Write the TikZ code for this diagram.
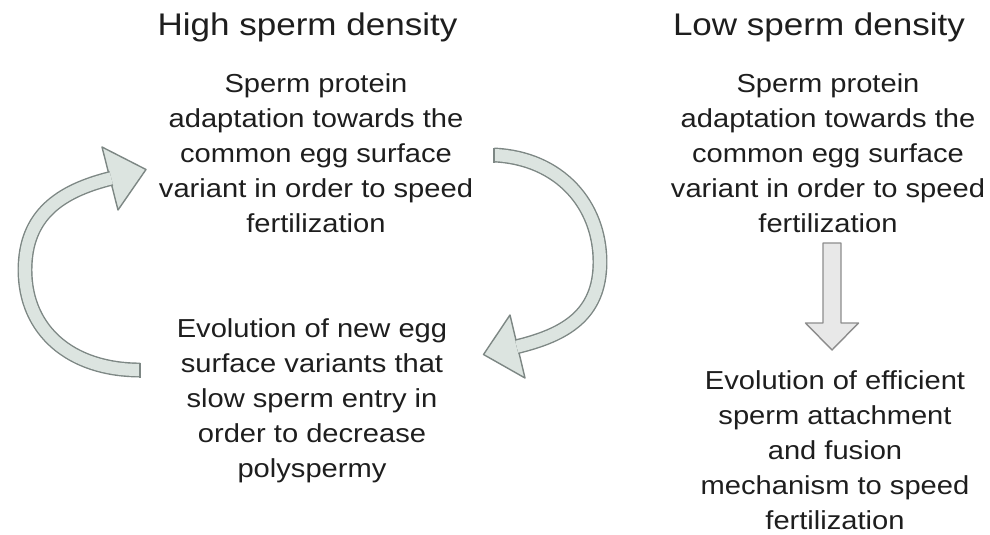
\documentclass[tikz,border=0pt]{standalone}
\usepackage{fontspec}
\setmainfont{Liberation Sans}[FakeStretch=1.12]
\usetikzlibrary{calc}

\definecolor{arrowfill}{HTML}{DCE4E0}
\definecolor{arrowedge}{HTML}{7D8784}
\definecolor{downfill}{HTML}{E8E8E8}
\definecolor{downedge}{HTML}{8C8C8C}
\definecolor{inktext}{HTML}{1E1E1E}

\tikzset{
  headline/.style={font=\fontsize{17.8}{20}\selectfont, anchor=base, inner sep=0pt, text=inktext},
  bodytext/.style={font=\fontsize{14.8}{19.85}\selectfont, align=center, anchor=base, inner sep=0pt, text=inktext},
  cycleshaft/.style={draw=arrowedge, line width=0.8pt, double=arrowfill, double distance=6.9pt},
  cyclehead/.style={fill=arrowfill, draw=arrowedge, line width=0.8pt, line join=round},
  downhead/.style={fill=downfill, draw=downedge, line width=0.8pt, line join=round}
}

\begin{document}
\begin{tikzpicture}[x=0.02cm, y=-0.02cm]
    \useasboundingbox (0,0) rectangle (990,534);

    \node[headline] (hightitle) at (307.5,35) {High sperm density};
    \node[headline] (lowtitle) at (819,35) {Low sperm density};

    % the base of a text block is its last line
    \node[bodytext] (highadapt) at (316,232) {Sperm protein\\adaptation towards the\\common egg surface\\variant in order to speed\\fertilization};
    \node[bodytext] (highevol) at (312,477) {Evolution of new egg\\surface variants that\\slow sperm entry in\\order to decrease\\polyspermy};
    \node[bodytext] (lowadapt) at (828,232) {Sperm protein\\adaptation towards the\\common egg surface\\variant in order to speed\\fertilization};
    \node[bodytext] (lowevol) at (835,529) {Evolution of efficient\\sperm attachment\\and fusion\\mechanism to speed\\fertilization};

    % left loop arrow, up towards the adaptation text
    \coordinate (lefttail) at (140,370);
    \coordinate (lefthead) at (111.3,178.3);
    \filldraw[cyclehead] (102,147) -- (146,169.5) -- (118,210) -- cycle;
    \draw[cycleshaft] (lefttail) .. controls (70,370) and (25,330) .. (25,270)
        .. controls (25,215) and (60,191) .. (lefthead);
    \draw[arrowedge, line width=0.8pt] ($(lefttail)+(0,-7.5)$) -- ($(lefttail)+(0,7.5)$);

    % right loop arrow, down towards the evolution text
    \coordinate (righttail) at (494,155);
    \coordinate (righthead) at (516.7,346.7);
    \filldraw[cyclehead] (510,315) -- (483.5,354.5) -- (525,378) -- cycle;
    \draw[cycleshaft] (righttail) .. controls (560,158) and (600,205) .. (600,262)
        .. controls (600,315) and (565,335) .. (righthead);
    \draw[arrowedge, line width=0.8pt] ($(righttail)+(0,-7.5)$) -- ($(righttail)+(0,7.5)$);

    % straight arrow on the low density side
    \coordinate (downtop) at (832,243);
    \coordinate (downtip) at (832,350);
    \filldraw[downhead] (downtop) ++(-9,0) -- ++(18,0) -- ++(0,80) -- ++(17.5,0)
        -- (downtip) -- ++(-26.5,-27) -- ++(17.5,0) -- cycle;
\end{tikzpicture}
\end{document}
